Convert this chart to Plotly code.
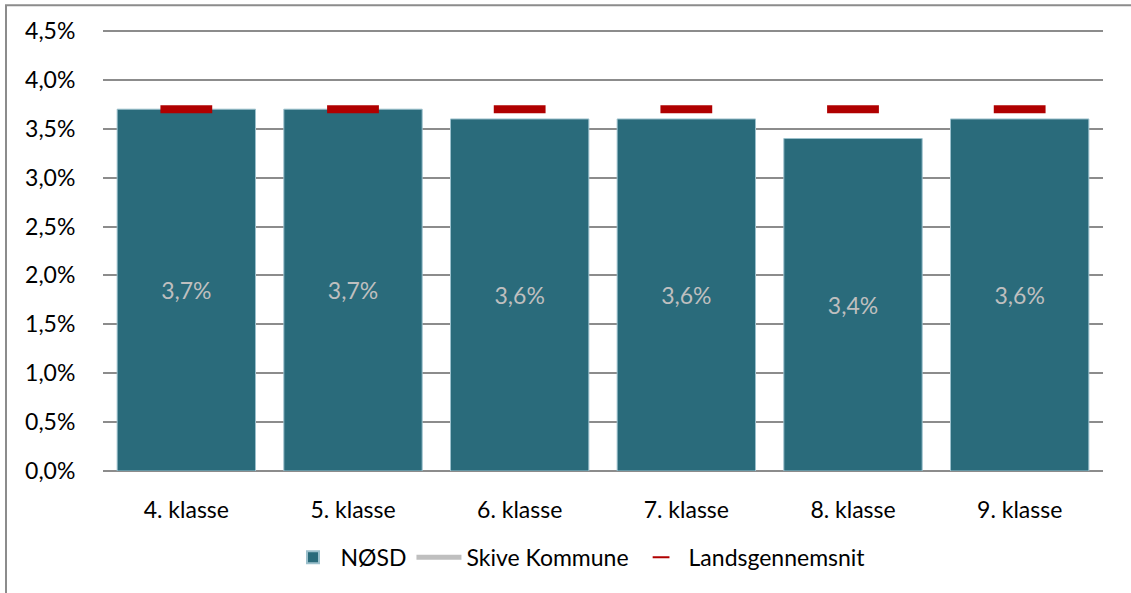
import plotly.graph_objects as go

# data
klasser = ["4. klasse", "5. klasse", "6. klasse", "7. klasse", "8. klasse", "9. klasse"]
nosd = [0.037, 0.037, 0.036, 0.036, 0.034, 0.036]
skive = [None, None, None, None, None, None]
lands = [0.037, 0.037, 0.037, 0.037, 0.037, 0.037]

font = "Lato, 'Open Sans', sans-serif"

fig = go.Figure()

fig.add_trace(go.Bar(
    x=klasser, y=nosd, name="NØSD",
    marker=dict(color="#2A6B7B", line=dict(color="#9CC0CC", width=1)),
    text=[f"{v*100:.1f}%".replace(".", ",") for v in nosd],
    textposition="inside", insidetextanchor="middle",
    textfont=dict(color="#BFBFBF", size=23, family=font),
    width=0.83,
))

fig.add_trace(go.Scatter(
    x=klasser, y=skive, name="Skive Kommune", mode="lines",
    line=dict(color="#BFBFBF", width=3),
))

fig.add_trace(go.Scatter(
    x=klasser, y=lands, name="Landsgennemsnit", mode="markers",
    marker=dict(symbol="line-ew-open", size=37, color="#B00000",
                line=dict(color="#B00000", width=8)),
))

fig.update_layout(
    width=1131, height=593,
    margin=dict(l=103, r=28, t=29, b=122),
    paper_bgcolor="white", plot_bgcolor="white",
    font=dict(family=font, size=23, color="#000000"),
    showlegend=True,
    legend=dict(orientation="h", x=0.475, xanchor="center", y=-0.195, yanchor="middle",
                font=dict(size=23), itemsizing="constant", itemwidth=45,
                traceorder="normal"),
    xaxis=dict(showgrid=False, ticks="outside", ticklen=18,
               tickcolor="rgba(0,0,0,0)", tickfont=dict(size=23)),
    yaxis=dict(range=[0, 0.0452], tickvals=[i * 0.005 for i in range(10)],
               tickformat=".1%",
               showgrid=True, gridcolor="#8C8C8C", gridwidth=1.5,
               zeroline=True, zerolinecolor="#8C8C8C", zerolinewidth=2,
               ticks="outside", ticklen=22, tickcolor="rgba(0,0,0,0)",
               tickfont=dict(size=23)),
    separators=",.",
    shapes=[dict(type="rect", xref="paper", yref="paper",
                 x0=-0.097, x1=1.1, y0=-0.3, y1=1.054,
                 line=dict(color="#8C8C8C", width=2), fillcolor="rgba(0,0,0,0)",
                 layer="below")],
)

fig.write_html("out.html", config={"displayModeBar": False},
               post_script="document.body.style.margin='0';")
